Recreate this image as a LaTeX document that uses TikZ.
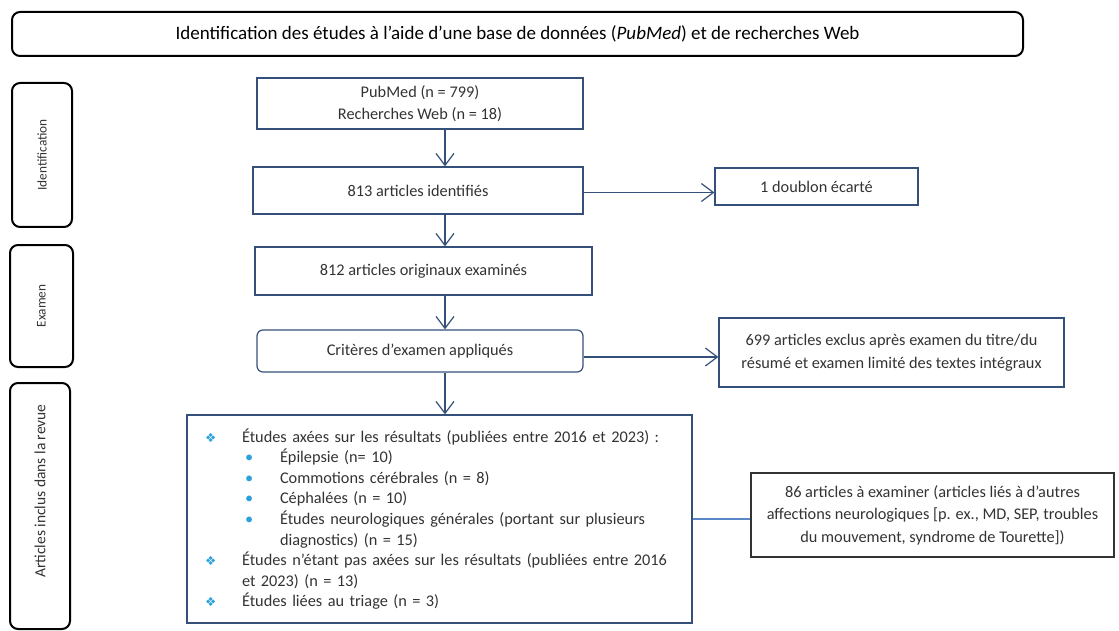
\documentclass[tikz,border=0pt]{standalone}
\usepackage{fontspec}
\setmainfont{Carlito}
\newfontfamily\symfont{DejaVu Sans}
\usetikzlibrary{arrows.meta}

\definecolor{cadre}{HTML}{34507A}
\definecolor{texte}{HTML}{333333}
\definecolor{puce}{HTML}{2AA0DC}
\definecolor{lien}{HTML}{5B86C8}

\newcommand{\puceA}{\makebox[37pt][l]{\textcolor{puce}{\symfont\fontsize{12.5}{12}\selectfont ❖}}}
\newcommand{\puceB}{\makebox[35pt][l]{\textcolor{puce}{\textbullet}}}

\tikzset{
  etape/.style={draw=cadre, line width=1.2pt, text=texte, align=center,
    font=\fontsize{16.3}{22.5}\selectfont, inner sep=0pt},
  phase/.style={draw=black, line width=2pt, rounded corners=8pt, inner sep=0pt},
  phasetexte/.style={rotate=90, text=texte, font=\fontsize{13.3}{15}\selectfont},
  fleche/.style={-{Straight Barb[length=12pt,width=18pt]}, draw=cadre, line width=1.2pt},
}

\begin{document}
\begin{tikzpicture}[x=1pt,y=-1pt]
  \useasboundingbox (0,0) rectangle (1119,631);

  % bandeau du haut
  \node[phase, minimum width=1011pt, minimum height=44pt,
    font=\fontsize{19}{22}\selectfont] (titre) at (517.5,34)
    {Identification des études à l’aide d’une base de données (\textit{PubMed}) et de recherches Web};

  % phases
  \node[phase, minimum width=60pt, minimum height=144pt] (ph1) at (42,155) {};
  \node[phasetexte] (ph1t) at (ph1.center) {Identification};
  \node[phase, minimum width=63pt, minimum height=122pt] (ph2) at (41.5,306) {};
  \node[phasetexte] (ph2t) at (ph2.center) {Examen};
  \node[phase, minimum width=60pt, minimum height=246pt] (ph3) at (40,506) {};
  \node[phasetexte, font=\fontsize{15.5}{17}\selectfont] (ph3t) at (40,491)
    {Articles inclus dans la revue};

  % colonne principale
  \node[etape, minimum width=326pt, minimum height=51pt] (pub) at (420,103.5)
    {PubMed (n = 799)\\Recherches Web (n = 18)};
  \node[etape, minimum width=330pt, minimum height=47pt] (ident) at (418,190.5)
    {813 articles identifiés};
  \node[etape, minimum width=337pt, minimum height=48pt] (orig) at (423.5,271)
    {812 articles originaux examinés};
  \node[etape, rounded corners=6pt, minimum width=326pt, minimum height=42pt] (crit) at (420,351)
    {Critères d’examen appliqués};
  \node[etape, align=left, text width=469pt, inner xsep=18pt, minimum height=208pt,
    font=\fontsize{16.3}{20.6}\selectfont] (corpus) at (439.5,519)
    {\puceA Études axées sur les résultats (publiées entre 2016 et 2023) :\\
     \hspace*{40pt}\puceB Épilepsie (n= 10)\\
     \hspace*{40pt}\puceB Commotions cérébrales (n = 8)\\
     \hspace*{40pt}\puceB Céphalées (n = 10)\\
     \hspace*{40pt}\puceB Études neurologiques générales (portant sur plusieurs\\
     \hspace*{75pt}diagnostics) (n = 15)\\
     \puceA Études n’étant pas axées sur les résultats (publiées entre 2016\\
     \hspace*{37pt}et 2023) (n = 13)\\
     \puceA Études liées au triage (n = 3)};

  % colonne de droite
  \node[etape, minimum width=203pt, minimum height=37pt] (doublon) at (816.5,186.5)
    {1 doublon écarté};
  \node[etape, minimum width=345pt, minimum height=69pt] (exclus) at (891.5,352.5)
    {699 articles exclus après examen du titre/du\\résumé et examen limité des textes intégraux};
  \node[etape, draw=texte, minimum width=363pt, minimum height=84pt] (reste) at (932.5,515)
    {86 articles à examiner (articles liés à d’autres\\affections neurologiques [p. ex., MD, SEP, troubles\\du mouvement, syndrome de Tourette])};

  % liaisons
  \coordinate (ax) at (445,0);
  \draw[fleche] (pub.south -| ax) -- (ident.north -| ax);
  \draw[fleche] (ident.south -| ax) -- (orig.north -| ax);
  \draw[fleche] (orig.south -| ax) -- (crit.north -| ax);
  \draw[fleche] (crit.south -| ax) -- (corpus.north -| ax);
  \draw[fleche] ([yshift=-2pt]ident.east) -- ([yshift=-2pt]ident.east -| doublon.west);
  \draw[fleche] ([yshift=-6pt]crit.east) -- ([yshift=-6pt]crit.east -| exclus.west);
  \draw[lien, line width=1.2pt] (corpus.east) -- (corpus.east -| reste.west);
\end{tikzpicture}
\end{document}
